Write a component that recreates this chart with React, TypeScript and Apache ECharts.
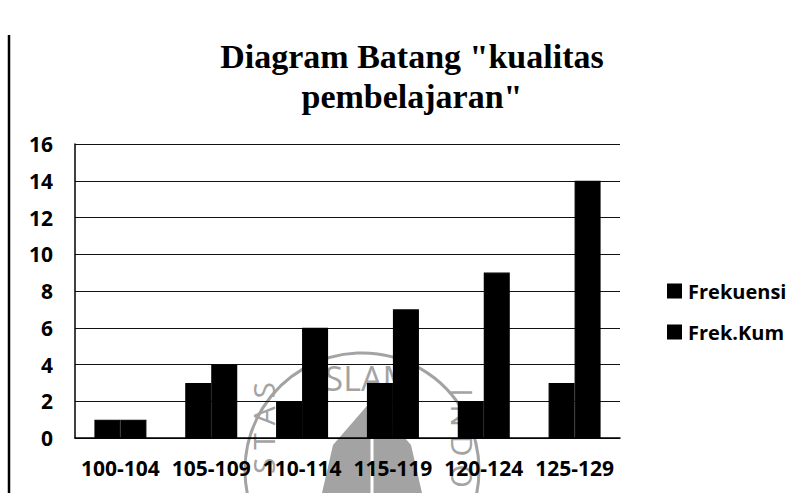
import React, { useEffect, useRef } from "react";
import * as echarts from "echarts";

const categories = ["100-104", "105-109", "110-114", "115-119", "120-124", "125-129"];
const frekuensi = [1, 3, 2, 3, 2, 3];
const frekKum = [1, 4, 6, 7, 9, 14];
const seriesNames = ["Frekuensi", "Frek.Kum"];
const titleText = 'Diagram Batang "kualitas\npembelajaran"';

export default function App() {
  const ref = useRef<HTMLDivElement>(null);
  useEffect(() => {
    if (!ref.current) return;
    const chart = echarts.init(ref.current, null, { renderer: "svg" });
    const labelFont = { fontFamily: "Open Sans", fontWeight: "bold" as const, fontSize: 21, color: "#000" };
    const wm = "#a3a3a3";
    chart.setOption({
      animation: false,
      backgroundColor: "#fff",
      title: {
        text: titleText,
        left: 407,
        top: 31,
        textAlign: "center",
        textStyle: {
          fontFamily: "Liberation Serif",
          fontWeight: "bold",
          fontSize: 34,
          lineHeight: 40,
          color: "#000",
        },
      },
      legend: {
        orient: "vertical",
        left: 662,
        top: 276,
        itemWidth: 13,
        itemHeight: 13,
        itemGap: 21,
        icon: "rect",
        data: seriesNames,
        textStyle: { ...labelFont, fontSize: 20, lineHeight: 20, padding: [0, 0, 0, 2] },
      },
      grid: { left: 75, right: 173, top: 144, bottom: 55, containLabel: false },
      xAxis: {
        type: "category",
        data: categories,
        axisLine: { show: true, lineStyle: { color: "#000", width: 1.5 } },
        axisTick: { show: false },
        axisLabel: { ...labelFont, margin: 19, interval: 0 },
      },
      yAxis: {
        type: "value",
        min: 0,
        max: 16,
        interval: 2,
        axisLine: { show: true, lineStyle: { color: "#000", width: 1.5 } },
        axisTick: { show: false },
        axisLabel: { ...labelFont, margin: 22 },
        splitLine: { show: true, lineStyle: { color: "#111", width: 1 } },
      },
      graphic: [
        {
          type: "line",
          z: 100,
          shape: { x1: 9, y1: 35, x2: 9, y2: 493 },
          style: { stroke: "#000", lineWidth: 2.5 },
        },
        {
          type: "circle",
          z: -10,
          shape: { cx: 362, cy: 470, r: 117 },
          style: { fill: "none", stroke: wm, lineWidth: 3 },
        },
        {
          type: "polygon",
          z: -10,
          shape: { points: [[372, 400], [333, 445], [322, 493], [422, 493], [411, 445]] },
          style: { fill: wm },
        },
        {
          type: "line",
          z: -9,
          shape: { x1: 372, y1: 420, x2: 372, y2: 493 },
          style: { stroke: "#fff", lineWidth: 3 },
        },
        {
          type: "text",
          z: -8,
          x: 364,
          y: 378,
          style: {
            text: "ISLAM",
            fill: wm,
            font: "34px 'Open Sans'",
            align: "center",
            verticalAlign: "middle",
          },
        },
        {
          type: "text",
          z: -8,
          x: 263,
          y: 428,
          rotation: Math.PI / 2,
          style: {
            text: "S T A S",
            fill: wm,
            font: "30px 'Open Sans'",
            align: "center",
            verticalAlign: "middle",
          },
        },
        {
          type: "text",
          z: -8,
          x: 462,
          y: 438,
          rotation: -Math.PI / 2,
          style: {
            text: "I N D O",
            fill: wm,
            font: "30px 'Open Sans'",
            align: "center",
            verticalAlign: "middle",
          },
        },
      ],
      series: [
        {
          name: seriesNames[0],
          type: "bar",
          data: frekuensi,
          barWidth: 26,
          barGap: "0%",
          itemStyle: { color: "#000", borderColor: "#000", borderWidth: 1.2 },
          z: 5,
        },
        {
          name: seriesNames[1],
          type: "bar",
          data: frekKum,
          barWidth: 26,
          barGap: "0%",
          itemStyle: { color: "#000", borderColor: "#000", borderWidth: 1.2 },
          z: 5,
        },
      ],
    });
    return () => chart.dispose();
  }, []);
  return (
    <div
      ref={ref}
      style={{ position: "fixed", left: 0, top: 0, width: 793, height: 493, background: "#fff" }}
    />
  );
}
